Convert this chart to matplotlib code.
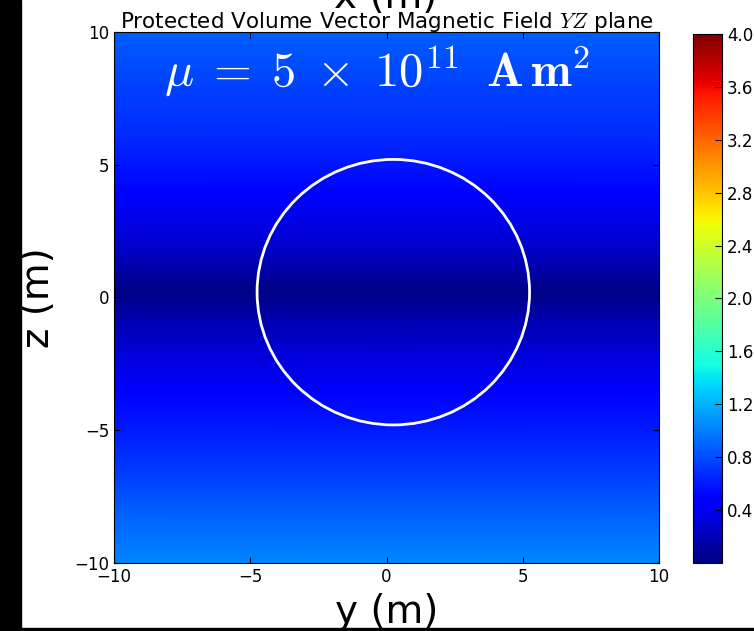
import numpy as np
import matplotlib
matplotlib.use("Agg")
import matplotlib.pyplot as plt
from matplotlib.patches import Circle, Rectangle

# field magnitude profile read along z (same for every y)
z_pts = [10, 8, 6, 4, 2.5, 1.2, 0.2, -0.8, -2, -3.5, -5, -6.5, -8, -10]
b_vals = [0.86, 0.76, 0.66, 0.50, 0.34, 0.17, 0.02, 0.16, 0.30, 0.46, 0.60, 0.72, 0.86, 1.02]
y_edges = [-10, 10]

circle_center = (0.25, 0.2)
circle_radius = 5.0

xticks = [-10, -5, 0, 5, 10]
cbar_ticks = [0.4, 0.8, 1.2, 1.6, 2.0, 2.4, 2.8, 3.2, 3.6, 4.0]

plt.rcParams['mathtext.fontset'] = 'cm'
plt.rcParams['xtick.direction'] = 'in'
plt.rcParams['ytick.direction'] = 'in'

fig = plt.figure(figsize=(7.54, 6.31), dpi=100)
ax = fig.add_axes([0.1512, 0.1078, 0.7228, 0.8415])
cax = fig.add_axes([0.919, 0.1078, 0.0385, 0.8383])

Y, Z = np.meshgrid(np.array(y_edges, float), np.array(z_pts, float))
C = np.repeat(np.array(b_vals)[:, None], len(y_edges), axis=1)
mesh = ax.pcolormesh(Y, Z, C, shading='gouraud', cmap='jet', vmin=0, vmax=4.0)

ax.add_patch(Circle(circle_center, circle_radius, fill=False, ec='white', lw=2))

ax.set_xlim(-10, 10)
ax.set_ylim(-10, 10)
ax.set_xticks(xticks)
ax.set_yticks(xticks)
ax.tick_params(labelsize=12, top=True, right=True, length=4, width=0.8)
ax.set_xlabel('y (m)', fontsize=28, labelpad=5)
ax.set_ylabel('z (m)', fontsize=28, labelpad=12)

# cut-off label of the panel above, partly hidden by the title
fig.text(0.512, 0.987, 'x (m)', fontsize=28, ha='center', va='baseline')
ax.set_title(r'Protected Volume Vector Magnetic Field $YZ$ plane', fontsize=15.5, pad=3)

ax.text(0.483, 0.925,
        r'$\mu\;=\;\mathbf{5}\;\times\;\mathbf{10}^{\mathbf{11}}\;\;\mathbf{A\,m}^{\mathbf{2}}$',
        transform=ax.transAxes, color='white', fontsize=35, ha='center', va='center')

cb = fig.colorbar(mesh, cax=cax, ticks=cbar_ticks)
cb.ax.set_yticklabels(['%.1f' % t for t in cbar_ticks])
cb.ax.tick_params(labelsize=12, direction='in', length=5)
cb.ax.set_ylim(0, 4.0)

# black borders of the screenshot
fig.add_artist(Rectangle((0, 0), 21 / 754, 1, transform=fig.transFigure, color='black', zorder=10))
fig.add_artist(Rectangle((0, 0), 1, 3 / 631, transform=fig.transFigure, color='black', zorder=10))

fig.savefig('out.png', dpi=100, facecolor='white')
